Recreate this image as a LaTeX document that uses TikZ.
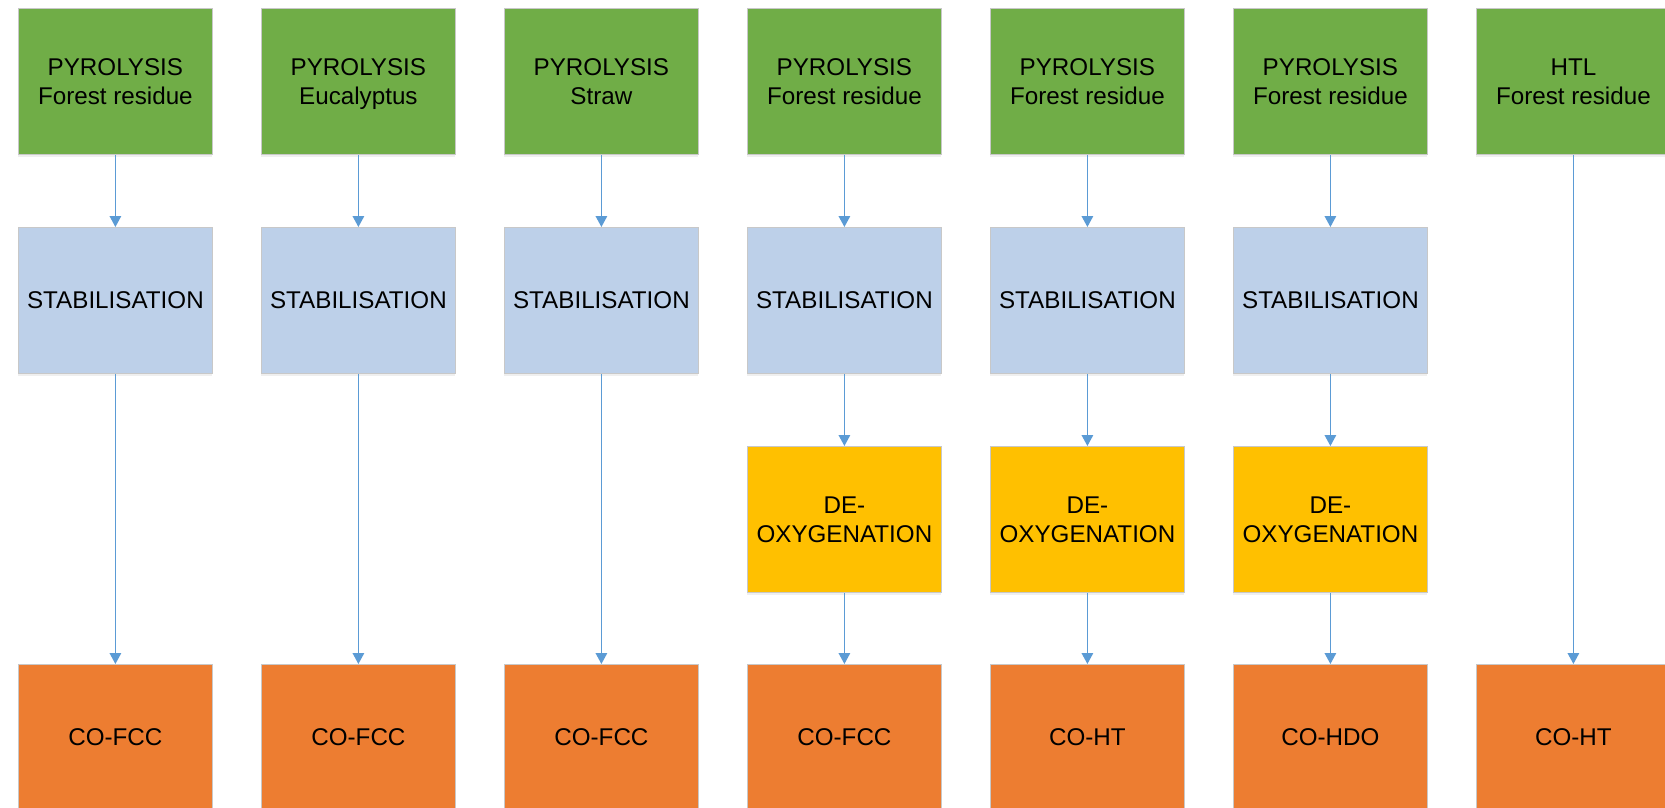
\documentclass[tikz,border=0pt]{standalone}
\usepackage{fontspec}
\setmainfont{Liberation Sans}
\usetikzlibrary{arrows.meta,shadows}

\definecolor{pyrogreen}{HTML}{70AD47}
\definecolor{stabblue}{HTML}{BDD0E9}
\definecolor{deoxyellow}{HTML}{FFC000}
\definecolor{coorange}{HTML}{ED7D31}
\definecolor{flowblue}{HTML}{5B9BD5}
\definecolor{edgegray}{HTML}{C8C8C8}

\tikzset{
  stage/.style={draw=edgegray, line width=0.8pt, anchor=north west,
    minimum width=194pt, minimum height=146pt, inner sep=0pt,
    align=center, font=\fontsize{24.2}{29}\selectfont,
    drop shadow={opacity=0.12, shadow xshift=0pt, shadow yshift=-3pt}},
  feed/.style={stage, fill=pyrogreen},
  stab/.style={stage, fill=stabblue},
  deox/.style={stage, fill=deoxyellow},
  prod/.style={stage, fill=coorange},
  flow/.style={draw=flowblue, line width=1.5pt,
    -{Triangle[length=11pt, width=11.5pt]}}
}
% two-line label, each line with the same height and depth
\newcommand{\linestrut}{\rule[-6pt]{0pt}{29pt}}
\newcommand{\twolines}[2]{#1\linestrut\\#2\linestrut}

\begin{document}
\begin{tikzpicture}[x=1pt, y=-1pt]
  \clip (0,0) rectangle (1665,807);
  \fill[white] (0,0) rectangle (1665,807);

  % top row: conversion route and feedstock
  \node[feed] (f1) at (18,8)   {\twolines{PYROLYSIS}{Forest residue}};
  \node[feed] (f2) at (261,8)  {\twolines{PYROLYSIS}{Eucalyptus}};
  \node[feed] (f3) at (504,8)  {\twolines{PYROLYSIS}{Straw}};
  \node[feed] (f4) at (747,8)  {\twolines{PYROLYSIS}{Forest residue}};
  \node[feed] (f5) at (990,8)  {\twolines{PYROLYSIS}{Forest residue}};
  \node[feed] (f6) at (1233,8) {\twolines{PYROLYSIS}{Forest residue}};
  \node[feed] (f7) at (1476,8) {\twolines{HTL}{Forest residue}};

  % stabilisation step
  \node[stab] (s1) at (18,227)   {STABILISATION};
  \node[stab] (s2) at (261,227)  {STABILISATION};
  \node[stab] (s3) at (504,227)  {STABILISATION};
  \node[stab] (s4) at (747,227)  {STABILISATION};
  \node[stab] (s5) at (990,227)  {STABILISATION};
  \node[stab] (s6) at (1233,227) {STABILISATION};

  % deoxygenation step
  \node[deox] (d4) at (747,446)  {\twolines{DE-}{OXYGENATION}};
  \node[deox] (d5) at (990,446)  {\twolines{DE-}{OXYGENATION}};
  \node[deox] (d6) at (1233,446) {\twolines{DE-}{OXYGENATION}};

  % co-processing in the refinery
  \node[prod] (p1) at (18,664)   {CO-FCC};
  \node[prod] (p2) at (261,664)  {CO-FCC};
  \node[prod] (p3) at (504,664)  {CO-FCC};
  \node[prod] (p4) at (747,664)  {CO-FCC};
  \node[prod] (p5) at (990,664)  {CO-HT};
  \node[prod] (p6) at (1233,664) {CO-HDO};
  \node[prod] (p7) at (1476,664) {CO-HT};

  % flows
  \foreach \i in {1,...,6} {
    \draw[flow] (f\i.south) -- (s\i.north);
  }
  \foreach \i in {1,2,3} {
    \draw[flow] (s\i.south) -- (p\i.north);
  }
  \foreach \i in {4,5,6} {
    \draw[flow] (s\i.south) -- (d\i.north);
    \draw[flow] (d\i.south) -- (p\i.north);
  }
  \draw[flow] (f7.south) -- (p7.north);
\end{tikzpicture}
\end{document}
